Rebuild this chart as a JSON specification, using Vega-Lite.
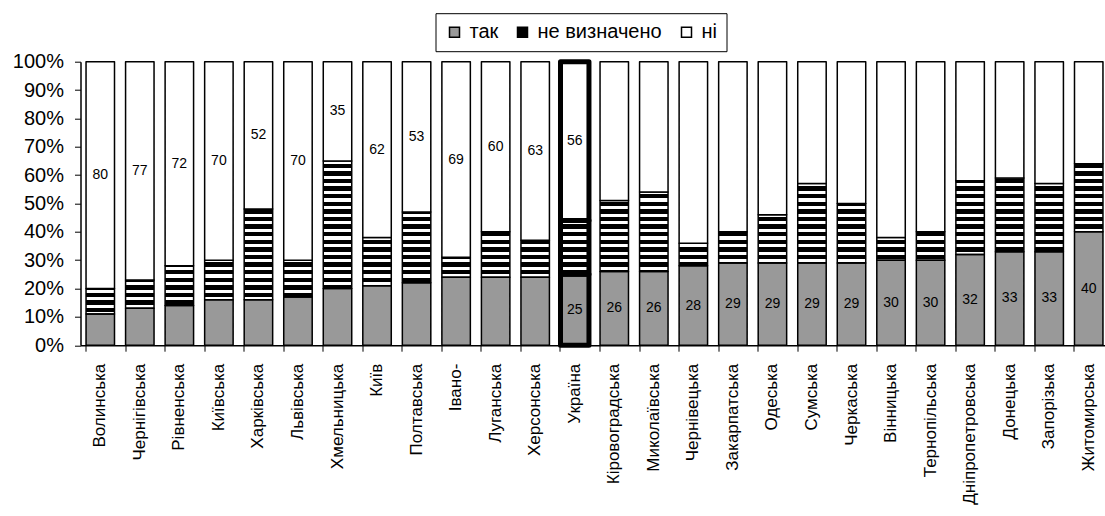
{
  "$schema": "https://vega.github.io/schema/vega-lite/v6.json",
  "autosize": {"type": "none"},
  "width": 1024,
  "height": 283.5,
  "padding": {"left": 80.5, "top": 61.7, "right": 0, "bottom": 170.8},
  "background": "white",
  "config": {
    "font": "Liberation Sans",
    "view": {"stroke": null},
    "axisY": {
      "labelFontSize": 20, "labelColor": "black", "labelPadding": 11, "tickSize": 6,
      "tickColor": "black", "tickWidth": 1, "domainColor": "black", "domainWidth": 1.5,
      "grid": false, "labelOverlap": false, "labelFlush": false, "labelBound": false,
      "tickCount": 10
    }
  },
  "data": {
    "values": [
      {"r": "Волинська", "s": "так", "v": 11}, {"r": "Волинська", "s": "не визначено", "v": 9}, {"r": "Волинська", "s": "ні", "v": 80},
      {"r": "Чернігівська", "s": "так", "v": 13}, {"r": "Чернігівська", "s": "не визначено", "v": 10}, {"r": "Чернігівська", "s": "ні", "v": 77},
      {"r": "Рівненська", "s": "так", "v": 14}, {"r": "Рівненська", "s": "не визначено", "v": 14}, {"r": "Рівненська", "s": "ні", "v": 72},
      {"r": "Київська", "s": "так", "v": 16}, {"r": "Київська", "s": "не визначено", "v": 14}, {"r": "Київська", "s": "ні", "v": 70},
      {"r": "Харківська", "s": "так", "v": 16}, {"r": "Харківська", "s": "не визначено", "v": 32}, {"r": "Харківська", "s": "ні", "v": 52},
      {"r": "Львівська", "s": "так", "v": 17}, {"r": "Львівська", "s": "не визначено", "v": 13}, {"r": "Львівська", "s": "ні", "v": 70},
      {"r": "Хмельницька", "s": "так", "v": 20}, {"r": "Хмельницька", "s": "не визначено", "v": 45}, {"r": "Хмельницька", "s": "ні", "v": 35},
      {"r": "Київ", "s": "так", "v": 21}, {"r": "Київ", "s": "не визначено", "v": 17}, {"r": "Київ", "s": "ні", "v": 62},
      {"r": "Полтавська", "s": "так", "v": 22}, {"r": "Полтавська", "s": "не визначено", "v": 25}, {"r": "Полтавська", "s": "ні", "v": 53},
      {"r": "Івано-", "s": "так", "v": 24}, {"r": "Івано-", "s": "не визначено", "v": 7}, {"r": "Івано-", "s": "ні", "v": 69},
      {"r": "Луганська", "s": "так", "v": 24}, {"r": "Луганська", "s": "не визначено", "v": 16}, {"r": "Луганська", "s": "ні", "v": 60},
      {"r": "Херсонська", "s": "так", "v": 24}, {"r": "Херсонська", "s": "не визначено", "v": 13}, {"r": "Херсонська", "s": "ні", "v": 63},
      {"r": "Україна", "s": "так", "v": 25}, {"r": "Україна", "s": "не визначено", "v": 19}, {"r": "Україна", "s": "ні", "v": 56},
      {"r": "Кіровоградська", "s": "так", "v": 26}, {"r": "Кіровоградська", "s": "не визначено", "v": 25}, {"r": "Кіровоградська", "s": "ні", "v": 49},
      {"r": "Миколаївська", "s": "так", "v": 26}, {"r": "Миколаївська", "s": "не визначено", "v": 28}, {"r": "Миколаївська", "s": "ні", "v": 46},
      {"r": "Чернівецька", "s": "так", "v": 28}, {"r": "Чернівецька", "s": "не визначено", "v": 8}, {"r": "Чернівецька", "s": "ні", "v": 64},
      {"r": "Закарпатська", "s": "так", "v": 29}, {"r": "Закарпатська", "s": "не визначено", "v": 11}, {"r": "Закарпатська", "s": "ні", "v": 60},
      {"r": "Одеська", "s": "так", "v": 29}, {"r": "Одеська", "s": "не визначено", "v": 17}, {"r": "Одеська", "s": "ні", "v": 54},
      {"r": "Сумська", "s": "так", "v": 29}, {"r": "Сумська", "s": "не визначено", "v": 28}, {"r": "Сумська", "s": "ні", "v": 43},
      {"r": "Черкаська", "s": "так", "v": 29}, {"r": "Черкаська", "s": "не визначено", "v": 21}, {"r": "Черкаська", "s": "ні", "v": 50},
      {"r": "Вінницька", "s": "так", "v": 30}, {"r": "Вінницька", "s": "не визначено", "v": 8}, {"r": "Вінницька", "s": "ні", "v": 62},
      {"r": "Тернопільська", "s": "так", "v": 30}, {"r": "Тернопільська", "s": "не визначено", "v": 10}, {"r": "Тернопільська", "s": "ні", "v": 60},
      {"r": "Дніпропетровська", "s": "так", "v": 32}, {"r": "Дніпропетровська", "s": "не визначено", "v": 26}, {"r": "Дніпропетровська", "s": "ні", "v": 42},
      {"r": "Донецька", "s": "так", "v": 33}, {"r": "Донецька", "s": "не визначено", "v": 26}, {"r": "Донецька", "s": "ні", "v": 41},
      {"r": "Запорізька", "s": "так", "v": 33}, {"r": "Запорізька", "s": "не визначено", "v": 24}, {"r": "Запорізька", "s": "ні", "v": 43},
      {"r": "Житомирська", "s": "так", "v": 40}, {"r": "Житомирська", "s": "не визначено", "v": 24}, {"r": "Житомирська", "s": "ні", "v": 36}
    ]
  },
  "transform": [
    {"calculate": "indexof(['так', 'не визначено', 'ні'], datum.s)", "as": "k"},
    {"stack": "v", "groupby": ["r"], "sort": [{"field": "k", "order": "ascending"}], "as": ["v0", "v1"]},
    {"calculate": "(datum.v0 + datum.v1) / 2", "as": "mid"}
  ],
  "encoding": {
    "x": {
      "field": "r", "type": "nominal", "sort": null,
      "scale": {"range": [0, 1028], "paddingInner": 0.28, "paddingOuter": 0.14},
      "axis": {
        "title": null, "labelAngle": -90, "labelFontSize": 17, "labelColor": "black",
        "labelPadding": 12, "tickSize": 6, "tickColor": "black", "tickWidth": 1,
        "domainColor": "black", "domainWidth": 1.5, "bandPosition": 0, "labelBound": false,
        "labelOverlap": false
      }
    }
  },
  "layer": [
    {
      "mark": {"type": "rule", "color": "#a0a0a0", "strokeWidth": 1.5},
      "encoding": {
        "y": {
          "datum": 100, "type": "quantitative", "scale": {"domain": [0, 100]},
          "axis": {"title": null, "tickCount": 10, "labelExpr": "datum.value + '%'"}
        }
      }
    },
    {
      "transform": [{"filter": "datum.s === 'не визначено'"}],
      "mark": {
        "type": "bar",
        "stroke": null,
        "fill": {
          "gradient": "linear", "x1": 0, "y1": 0, "x2": 0, "y2": 1,
          "stops": [
            {"offset": 0, "color": "white"}, {"offset": 0.0113, "color": "white"}, {"offset": 0.0113, "color": "black"}, {"offset": 0.0268, "color": "black"},
            {"offset": 0.0268, "color": "white"}, {"offset": 0.0381, "color": "white"}, {"offset": 0.0381, "color": "black"}, {"offset": 0.0536, "color": "black"},
            {"offset": 0.0536, "color": "white"}, {"offset": 0.0649, "color": "white"}, {"offset": 0.0649, "color": "black"}, {"offset": 0.0804, "color": "black"},
            {"offset": 0.0804, "color": "white"}, {"offset": 0.0917, "color": "white"}, {"offset": 0.0917, "color": "black"}, {"offset": 0.1072, "color": "black"},
            {"offset": 0.1072, "color": "white"}, {"offset": 0.1185, "color": "white"}, {"offset": 0.1185, "color": "black"}, {"offset": 0.134, "color": "black"},
            {"offset": 0.134, "color": "white"}, {"offset": 0.1453, "color": "white"}, {"offset": 0.1453, "color": "black"}, {"offset": 0.1608, "color": "black"},
            {"offset": 0.1608, "color": "white"}, {"offset": 0.1721, "color": "white"}, {"offset": 0.1721, "color": "black"}, {"offset": 0.1876, "color": "black"},
            {"offset": 0.1876, "color": "white"}, {"offset": 0.1989, "color": "white"}, {"offset": 0.1989, "color": "black"}, {"offset": 0.2144, "color": "black"},
            {"offset": 0.2144, "color": "white"}, {"offset": 0.2257, "color": "white"}, {"offset": 0.2257, "color": "black"}, {"offset": 0.2412, "color": "black"},
            {"offset": 0.2412, "color": "white"}, {"offset": 0.2525, "color": "white"}, {"offset": 0.2525, "color": "black"}, {"offset": 0.268, "color": "black"},
            {"offset": 0.268, "color": "white"}, {"offset": 0.2793, "color": "white"}, {"offset": 0.2793, "color": "black"}, {"offset": 0.2948, "color": "black"},
            {"offset": 0.2948, "color": "white"}, {"offset": 0.3061, "color": "white"}, {"offset": 0.3061, "color": "black"}, {"offset": 0.3216, "color": "black"},
            {"offset": 0.3216, "color": "white"}, {"offset": 0.3329, "color": "white"}, {"offset": 0.3329, "color": "black"}, {"offset": 0.3484, "color": "black"},
            {"offset": 0.3484, "color": "white"}, {"offset": 0.3597, "color": "white"}, {"offset": 0.3597, "color": "black"}, {"offset": 0.3752, "color": "black"},
            {"offset": 0.3752, "color": "white"}, {"offset": 0.3865, "color": "white"}, {"offset": 0.3865, "color": "black"}, {"offset": 0.402, "color": "black"},
            {"offset": 0.402, "color": "white"}, {"offset": 0.4133, "color": "white"}, {"offset": 0.4133, "color": "black"}, {"offset": 0.4288, "color": "black"},
            {"offset": 0.4288, "color": "white"}, {"offset": 0.4401, "color": "white"}, {"offset": 0.4401, "color": "black"}, {"offset": 0.4556, "color": "black"},
            {"offset": 0.4556, "color": "white"}, {"offset": 0.4669, "color": "white"}, {"offset": 0.4669, "color": "black"}, {"offset": 0.4824, "color": "black"},
            {"offset": 0.4824, "color": "white"}, {"offset": 0.4937, "color": "white"}, {"offset": 0.4937, "color": "black"}, {"offset": 0.5092, "color": "black"},
            {"offset": 0.5092, "color": "white"}, {"offset": 0.5205, "color": "white"}, {"offset": 0.5205, "color": "black"}, {"offset": 0.536, "color": "black"},
            {"offset": 0.536, "color": "white"}, {"offset": 0.5473, "color": "white"}, {"offset": 0.5473, "color": "black"}, {"offset": 0.5628, "color": "black"},
            {"offset": 0.5628, "color": "white"}, {"offset": 0.5741, "color": "white"}, {"offset": 0.5741, "color": "black"}, {"offset": 0.5896, "color": "black"},
            {"offset": 0.5896, "color": "white"}, {"offset": 0.6009, "color": "white"}, {"offset": 0.6009, "color": "black"}, {"offset": 0.6164, "color": "black"},
            {"offset": 0.6164, "color": "white"}, {"offset": 0.6277, "color": "white"}, {"offset": 0.6277, "color": "black"}, {"offset": 0.6432, "color": "black"},
            {"offset": 0.6432, "color": "white"}, {"offset": 0.6545, "color": "white"}, {"offset": 0.6545, "color": "black"}, {"offset": 0.67, "color": "black"},
            {"offset": 0.67, "color": "white"}, {"offset": 0.6813, "color": "white"}, {"offset": 0.6813, "color": "black"}, {"offset": 0.6968, "color": "black"},
            {"offset": 0.6968, "color": "white"}, {"offset": 0.7081, "color": "white"}, {"offset": 0.7081, "color": "black"}, {"offset": 0.7236, "color": "black"},
            {"offset": 0.7236, "color": "white"}, {"offset": 0.7349, "color": "white"}, {"offset": 0.7349, "color": "black"}, {"offset": 0.7504, "color": "black"},
            {"offset": 0.7504, "color": "white"}, {"offset": 0.7617, "color": "white"}, {"offset": 0.7617, "color": "black"}, {"offset": 0.7772, "color": "black"},
            {"offset": 0.7772, "color": "white"}, {"offset": 0.7885, "color": "white"}, {"offset": 0.7885, "color": "black"}, {"offset": 0.804, "color": "black"},
            {"offset": 0.804, "color": "white"}, {"offset": 0.8153, "color": "white"}, {"offset": 0.8153, "color": "black"}, {"offset": 0.8308, "color": "black"},
            {"offset": 0.8308, "color": "white"}, {"offset": 0.8421, "color": "white"}, {"offset": 0.8421, "color": "black"}, {"offset": 0.8576, "color": "black"},
            {"offset": 0.8576, "color": "white"}, {"offset": 0.8689, "color": "white"}, {"offset": 0.8689, "color": "black"}, {"offset": 0.8844, "color": "black"},
            {"offset": 0.8844, "color": "white"}, {"offset": 0.8957, "color": "white"}, {"offset": 0.8957, "color": "black"}, {"offset": 0.9112, "color": "black"},
            {"offset": 0.9112, "color": "white"}, {"offset": 0.9225, "color": "white"}, {"offset": 0.9225, "color": "black"}, {"offset": 0.938, "color": "black"},
            {"offset": 0.938, "color": "white"}, {"offset": 0.9493, "color": "white"}, {"offset": 0.9493, "color": "black"}, {"offset": 0.9648, "color": "black"},
            {"offset": 0.9648, "color": "white"}, {"offset": 0.9761, "color": "white"}, {"offset": 0.9761, "color": "black"}, {"offset": 0.9916, "color": "black"},
            {"offset": 0.9916, "color": "white"}, {"offset": 1, "color": "white"}
          ]
        }
      },
      "encoding": {
        "y": {"datum": 0, "type": "quantitative"},
        "y2": {"datum": 100}
      }
    },
    {
      "mark": {"type": "bar", "stroke": "black", "strokeJoin": "round"},
      "encoding": {
        "y": {
          "field": "v0", "type": "quantitative", "scale": {"domain": [0, 100]},
          "axis": {"title": null, "tickCount": 10, "labelExpr": "datum.value + '%'"}
        },
        "y2": {"field": "v1"},
        "fill": {
          "field": "s", "type": "nominal",
          "scale": {"domain": ["так", "не визначено", "ні"], "range": ["#999999", "#000000", "#ffffff"]},
          "legend": {
            "title": null, "orient": "none", "direction": "horizontal", "columns": 3,
            "legendX": 355, "legendY": -48.5,
            "labelFontSize": 20, "labelColor": "black", "labelOffset": 5,
            "columnPadding": 14, "padding": 9,
            "symbolType": "square", "symbolSize": 100,
            "strokeColor": "black", "fillColor": "white",
            "encode": {
              "symbols": {
                "update": {
                  "stroke": {"value": "black"},
                  "strokeWidth": [
                    {"test": "datum.value === 'не визначено'", "value": 0.6},
                    {"value": 1.5}
                  ],
                  "opacity": {"value": 1},
                  "fillOpacity": {"value": 1},
                  "shape": [
                    {"test": "datum.value === 'не визначено'", "value": "M-1,-1H1V1H-1Z M-1,-0.6V-0.2H1V-0.6Z M-1,0.2V0.6H1V0.2Z"},
                    {"value": "square"}
                  ],
                  "fill": [
                    {"test": "datum.value === 'так'", "value": "#999999"},
                    {"test": "datum.value === 'не визначено'", "value": "#000000"},
                    {"value": "#ffffff"}
                  ]
                }
              }
            }
          }
        },
        "fillOpacity": {
          "condition": {"test": "datum.s === 'не визначено'", "value": 0},
          "value": 1
        },
        "strokeWidth": {
          "condition": {"test": "datum.r === 'Україна'", "value": 5},
          "value": 1.5
        }
      }
    },
    {
      "transform": [
        {"filter": "(datum.s === 'ні' && indexof(['Волинська','Чернігівська','Рівненська','Київська','Харківська','Львівська','Хмельницька','Київ','Полтавська','Івано-','Луганська','Херсонська','Україна'], datum.r) >= 0) || (datum.s === 'так' && indexof(['Україна','Кіровоградська','Миколаївська','Чернівецька','Закарпатська','Одеська','Сумська','Черкаська','Вінницька','Тернопільська','Дніпропетровська','Донецька','Запорізька','Житомирська'], datum.r) >= 0)"}
      ],
      "mark": {"type": "text", "fontSize": 14, "color": "black", "baseline": "middle", "align": "center"},
      "encoding": {
        "y": {
          "field": "mid", "type": "quantitative",
          "axis": {"title": null, "tickCount": 10, "labelExpr": "datum.value + '%'"}
        },
        "text": {"field": "v", "type": "quantitative"}
      }
    }
  ]
}
